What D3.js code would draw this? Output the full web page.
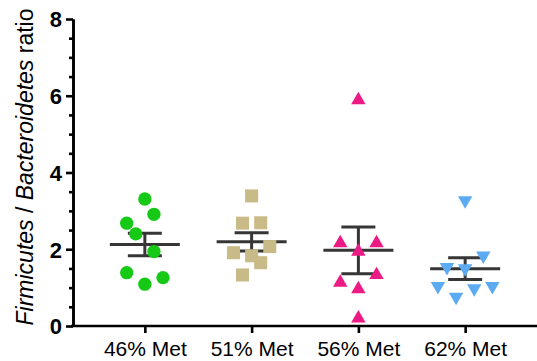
<!DOCTYPE html>
<html lang="en">
<head>
    <meta charset="UTF-8">
    <title>Firmicutes / Bacteroidetes ratio</title>
    <script src="https://d3js.org/d3.v7.min.js"></script>
    <style>
        body {
            margin: 0;
            background: #fff;
            font-family: "Liberation Sans", Arial, sans-serif;
        }
        .axis path, .axis line {
            stroke: #000;
            stroke-width: 2.6px;
        }
        .axis text {
            fill: #000;
        }
    </style>
</head>
<body>
    <svg width="537" height="361"></svg>

    <script>
        // groups and values
        const categories = ["46% Met", "51% Met", "56% Met", "62% Met"];
        const met46 = [3.31, 2.91, 2.68, 2.40, 1.94, 1.39, 1.26, 1.09];
        const met51 = [3.39, 2.68, 2.69, 2.07, 1.91, 1.83, 1.65, 1.33];
        const met56 = [5.89, 2.16, 2.16, 1.94, 1.33, 1.13, 0.96, 0.20];
        const met62 = [3.27, 1.83, 1.53, 1.50, 1.04, 0.98, 1.04, 0.76];
        // horizontal scatter slot of each point (as drawn by the original)
        const jit46 = [0, 1, -2, -1, 1, -2, 2, 0];
        const jit51 = [0, -1, 1, 2, -2, 0, 1, -1];
        const jit56 = [0, -2, 2, 0, 2, -2, 0, 0];
        const jit62 = [0, 2, -2, 0, -3, 1, 3, -1];
        const yMajorTicks = [0, 2, 4, 6, 8];
        const yMinorTicks = [0.5, 1, 1.5, 2.5, 3, 3.5, 4.5, 5, 5.5, 6.5, 7, 7.5];

        const groups = [
            { name: categories[0], values: met46, jitter: jit46, color: "#16c916", shape: "circle" },
            { name: categories[1], values: met51, jitter: jit51, color: "#c9bb88", shape: "square" },
            { name: categories[2], values: met56, jitter: jit56, color: "#ec1a84", shape: "up" },
            { name: categories[3], values: met62, jitter: jit62, color: "#5caaf2", shape: "down" }
        ];

        const svg = d3.select("svg");

        const x = d3.scalePoint()
                    .domain(categories)
                    .range([73, 537])
                    .padding(0.673);

        const y = d3.scaleLinear()
                    .domain([0, 8])
                    .range([326, 19]);

        const slot = x.step() * 0.085;

        // y axis: minor ticks first, then major with labels
        svg.append("g")
           .attr("class", "axis")
           .attr("transform", "translate(73,0)")
           .call(d3.axisLeft(y).tickValues(yMinorTicks).tickSize(4).tickFormat("").tickSizeOuter(0));

        const yAxis = svg.append("g")
           .attr("class", "axis")
           .attr("transform", "translate(73,0)")
           .call(d3.axisLeft(y).tickValues(yMajorTicks).tickSize(7).tickSizeOuter(0).tickPadding(4));
        yAxis.selectAll("text")
             .style("font-size", "22px")
             .style("font-weight", "bold")
             .attr("dy", "0.36em");

        // x axis
        const xAxis = svg.append("g")
           .attr("class", "axis")
           .attr("transform", "translate(0,326)")
           .call(d3.axisBottom(x).tickSize(7).tickSizeOuter(0).tickPadding(8));
        xAxis.select(".domain").attr("d", "M71,0H537");
        xAxis.selectAll("text")
             .style("font-size", "21px")
             .attr("dy", "0.71em");

        // axis title with italic taxa
        const title = svg.append("text")
           .attr("transform", "translate(33,167) rotate(-90)")
           .attr("text-anchor", "middle")
           .style("font-size", "23px")
           .attr("fill", "#000");
        title.append("tspan").style("font-style", "italic").text("Firmicutes");
        title.append("tspan").text(" / ");
        title.append("tspan").style("font-style", "italic").text("Bacteroidetes");
        title.append("tspan").text(" ratio");

        // mean +/- SEM bars
        groups.forEach(g => {
            const m = d3.mean(g.values);
            const sem = d3.deviation(g.values) / Math.sqrt(g.values.length);
            const cx = x(g.name);
            const bar = svg.append("g")
                           .attr("stroke", "#363636")
                           .attr("stroke-width", 3);
            bar.append("line")
               .attr("x1", cx - 35).attr("x2", cx + 35)
               .attr("y1", y(m)).attr("y2", y(m));
            bar.append("line")
               .attr("x1", cx).attr("x2", cx)
               .attr("y1", y(m + sem)).attr("y2", y(m - sem));
            [m + sem, m - sem].forEach(v => {
                bar.append("line")
                   .attr("x1", cx - 17).attr("x2", cx + 17)
                   .attr("y1", y(v)).attr("y2", y(v));
            });
        });

        // points
        const symbols = {
            circle: d3.symbol().type(d3.symbolCircle).size(140),
            square: d3.symbol().type(d3.symbolSquare).size(170),
            up: d3.symbol().type(d3.symbolTriangle).size(90),
            down: d3.symbol().type(d3.symbolTriangle).size(90)
        };

        groups.forEach(g => {
            svg.append("g")
               .selectAll("path")
               .data(g.values.map((v, i) => ({ v: v, j: g.jitter[i] })))
               .join("path")
               .attr("d", symbols[g.shape])
               .attr("fill", g.color)
               .attr("transform", d => {
                   const px = x(g.name) + d.j * slot;
                   const rot = g.shape === "down" ? " rotate(180)" : "";
                   return `translate(${px},${y(d.v)})${rot}`;
               });
        });
    </script>
</body>
</html>
